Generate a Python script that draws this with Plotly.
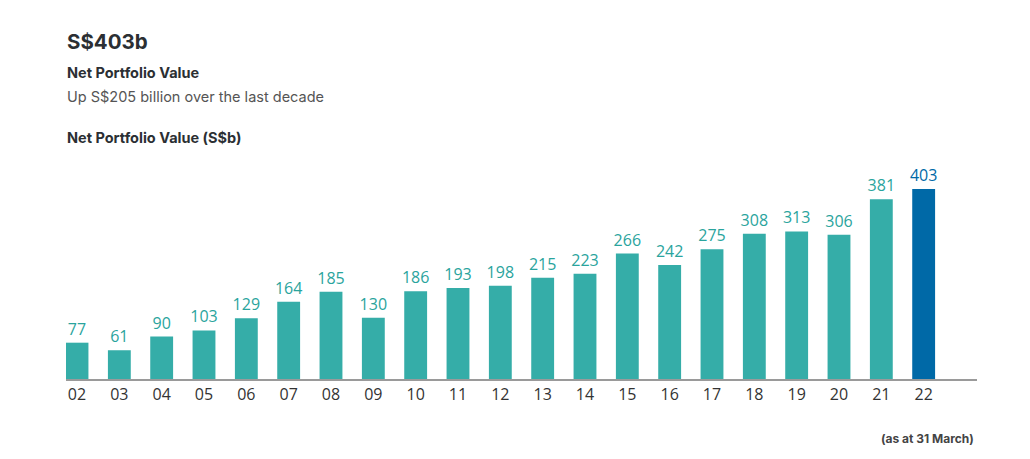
import plotly.graph_objects as go

years = ['02', '03', '04', '05', '06', '07', '08', '09', '10', '11', '12',
         '13', '14', '15', '16', '17', '18', '19', '20', '21', '22']
values = [77, 61, 90, 103, 129, 164, 185, 130, 186, 193, 198,
          215, 223, 266, 242, 275, 308, 313, 306, 381, 403]

teal = '#35ada8'
blue = '#0069a7'
colors = [teal] * (len(years) - 1) + [blue]
label_colors = ['#2aa49d'] * (len(years) - 1) + [blue]

# page has an 8px body margin, so work in screen pixels and shift
off = 8
W, H = 1030 - off, 459 - off
left, right, top, bottom = 66 - off, 977 - off, 160 - off, 379 - off


def px(x):
    return (x - off - left) / (right - left)


def py(y):
    return (bottom - (y - off)) / (bottom - top)


fig = go.Figure(go.Bar(
    x=list(range(len(years))), y=values,
    marker_color=colors, marker_line_width=0,
    text=[str(v) for v in values], textposition='outside',
    constraintext='none',
    textfont=dict(family='Open Sans', size=16, color=label_colors),
    cliponaxis=False, width=0.54,
    hoverinfo='skip',
))

heading = 'Inter'
annots = [
    dict(text='<b>S$403b</b>', x=px(65), y=py(42), size=20.5, color='#2b2f33'),
    dict(text='<b>Net Portfolio Value</b>', x=px(65), y=py(72), size=14.5, color='#2b2f33'),
    dict(text='Up S$205 billion over the last decade', x=px(65), y=py(96), size=14.5, color='#555555'),
    dict(text='<b>Net Portfolio Value (S$b)</b>', x=px(65), y=py(137), size=14.5, color='#2b2f33'),
]
for a in annots:
    fig.add_annotation(text=a['text'], x=a['x'], y=a['y'], xref='paper', yref='paper',
                       xanchor='left', yanchor='middle', showarrow=False,
                       font=dict(family=heading, size=a['size'], color=a['color']))
fig.add_annotation(text='<b>(as at 31 March)</b>', x=px(976), y=py(438), xref='paper', yref='paper',
                   xanchor='right', yanchor='middle', showarrow=False,
                   font=dict(family=heading, size=12, color='#444444'))

fig.update_layout(
    width=W, height=H,
    margin=dict(l=left, r=W - right, t=top, b=H - bottom, pad=0),
    plot_bgcolor='white', paper_bgcolor='white',
    showlegend=False,
    xaxis=dict(range=[-0.26, 21.26], tickmode='array', tickvals=list(range(len(years))),
               ticktext=years, showgrid=False, zeroline=False, showline=True,
               linecolor='#9a9a9a', linewidth=2, ticks='',
               tickfont=dict(family='Open Sans', size=16, color='#333333'), fixedrange=True),
    yaxis=dict(range=[0, (bottom - top) / 0.4715], visible=False, fixedrange=True),
)

fig.write_html('out.html')
